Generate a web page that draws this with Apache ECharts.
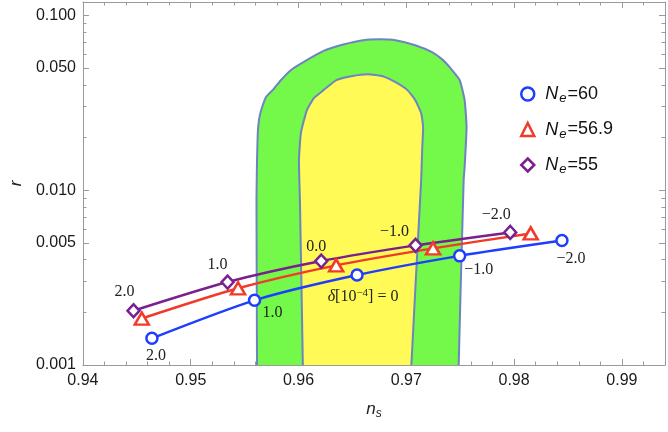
<!DOCTYPE html>
<html><head><meta charset="utf-8">
<script src="https://cdn.jsdelivr.net/npm/echarts@6/dist/echarts.min.js"></script>
<style>html,body{margin:0;padding:0;background:#fff}#c{width:668px;height:432px}</style>
</head><body><div id="c"></div>
<script>
// ---- data ----
const neNames = ['60', '56.9', '55'];
const nsNe60  = [0.94640, 0.95592, 0.96543, 0.97495, 0.98444];
const rNe60   = [0.001421, 0.002343, 0.003267, 0.004207, 0.005145];
const nsNe569 = [0.94546, 0.95439, 0.96349, 0.97248, 0.98154];
const rNe569  = [0.001843, 0.002744, 0.003713, 0.004643, 0.005656];
const nsNe55  = [0.94469, 0.95342, 0.96211, 0.97086, 0.97964];
const rNe55   = [0.002043, 0.002980, 0.003929, 0.004831, 0.005731];
const deltaLabels60 = ['2.0', '1.0', '{i|δ}[10{s|−4}] = 0', '−1.0', '−2.0'];
const deltaLabels55 = ['2.0', '1.0', '0.0', '−1.0', '−2.0'];
// contour boundaries [n_s, r]
const outer2sigma = [[0.95615,0.0005],[0.95615,0.001],[0.95610,0.0088],[0.95615,0.0148],[0.95622,0.0212],[0.95633,0.0251],[0.95653,0.0286],[0.95699,0.0341],[0.95769,0.0378],[0.95836,0.0425],[0.95928,0.0485],[0.96049,0.0541],[0.96232,0.0625],[0.96415,0.0680],[0.96598,0.0720],[0.96751,0.0729],[0.96900,0.0720],[0.97083,0.0674],[0.97239,0.0615],[0.97330,0.0561],[0.97394,0.0511],[0.97495,0.0425],[0.97541,0.0327],[0.97559,0.0229],[0.97541,0.0135],[0.97532,0.0114],[0.97486,0.001],[0.97486,0.0005]];
const inner1sigma = [[0.96040,0.0005],[0.96040,0.001],[0.96013,0.0088],[0.96004,0.0148],[0.96022,0.0212],[0.96077,0.0286],[0.96141,0.0335],[0.96232,0.0373],[0.96351,0.0425],[0.96489,0.0448],[0.96644,0.0460],[0.96781,0.0448],[0.96900,0.0414],[0.97010,0.0373],[0.97083,0.0327],[0.97138,0.0275],[0.97156,0.0229],[0.97147,0.0169],[0.97138,0.0114],[0.97047,0.001],[0.97047,0.0005]];
const xMin = 0.94, xMax = 0.994, xStep = 0.01;
const yMin = 0.001, yMax = 0.119;
const yMajorTicks = [0.001, 0.005, 0.01, 0.05, 0.1];
const yMinorTicks = [0.002,0.003,0.004,0.006,0.007,0.008,0.009,0.02,0.03,0.04,0.06,0.07,0.08,0.09];

// ---- styling ----
const BLUE = '#1f3dff', RED = '#f23a2a', PURPLE = '#7a1f8e';
const FRAME = '#9a9a9a';
const offs60 = [[4,17],[18,12],[6,22],[19,14],[9,18]];
const offs55 = [[-9,-19],[-10,-17],[-5,-14],[-21,-14],[-14,-18]];
const serif = 'Liberation Serif';
const sans = 'Liberation Sans';
const lblStyle = {fontFamily: serif, fontSize: 16, color: '#222',
  rich: {i: {fontFamily: serif, fontSize: 16, fontStyle: 'italic', color: '#222'},
         s: {fontFamily: serif, fontSize: 11, color: '#222', padding: [0,0,8,0]}}};

function pts(xs, ys, texts, offs) {
  return xs.map((x, i) => {
    const item = {value: [x, ys[i]]};
    if (texts) item.label = Object.assign({show: true, position: 'inside', formatter: texts[i], offset: offs[i]}, lblStyle);
    return item;
  });
}

function polySeries(poly, fill) {
  return {
    type: 'custom', clip: true, silent: true,
    data: [poly[1]],
    renderItem: (params, api) => ({
      type: 'polygon',
      shape: {points: poly.map(p => api.coord(p)), smooth: 0.15},
      style: {fill: fill, stroke: '#6e84c2', lineWidth: 2}
    })
  };
}

function lineSeries(name, xs, ys, color, symbol, size, texts, offs) {
  return {
    type: 'line', name: name, data: pts(xs, ys, texts, offs),
    smooth: 0.25, symbol: symbol, symbolSize: size, showAllSymbol: true,
    lineStyle: {color: color, width: 2.5},
    itemStyle: {color: '#fff', borderColor: color, borderWidth: 2.5},
    emphasis: {disabled: true}, z: 5
  };
}

const xLabelFmt = v => Math.abs(v * 100 - Math.round(v * 100)) < 1e-6 ? v.toFixed(2) : '';
const baseX = {
  type: 'value', min: xMin, max: xMax, interval: xStep,
  axisLine: {show: true, lineStyle: {color: FRAME, width: 1}},
  axisTick: {show: true, inside: true, length: 6, lineStyle: {color: FRAME}},
  minorTick: {show: true, splitNumber: 5, length: 3.5, lineStyle: {color: FRAME}},
  splitLine: {show: false}, minorSplitLine: {show: false}
};
const baseY = {
  type: 'log', min: yMin, max: yMax, logBase: 10,
  splitLine: {show: false}, minorTick: {show: false}, minorSplitLine: {show: false}
};

const option = {
  animation: false,
  backgroundColor: '#fff',
  grid: {left: 76, right: 1, top: 2, bottom: 67, containLabel: false},
  xAxis: [
    Object.assign({}, baseX, {
      position: 'bottom',
      axisLabel: {formatter: xLabelFmt, fontFamily: sans, fontSize: 16, color: '#1a1a1a', margin: 8},
      name: '{n|n}{s|s}', nameLocation: 'middle', nameGap: 34,
      nameTextStyle: {rich: {
        n: {fontFamily: sans, fontStyle: 'italic', fontSize: 17, color: '#222'},
        s: {fontFamily: sans, fontStyle: 'italic', fontSize: 12, color: '#222', padding: [9,0,0,0]}}}
    }),
    Object.assign({}, baseX, {position: 'top', axisLabel: {show: false}})
  ],
  yAxis: [
    Object.assign({}, baseY, {
      position: 'left',
      axisLine: {show: true, lineStyle: {color: FRAME, width: 1}},
      axisTick: {show: true, inside: true, length: 6, customValues: yMajorTicks, lineStyle: {color: FRAME}},
      axisLabel: {customValues: yMajorTicks, formatter: v => v.toFixed(3), fontFamily: sans, fontSize: 16, color: '#1a1a1a', margin: 7},
      name: 'r', nameLocation: 'middle', nameGap: 57, nameRotate: 90,
      nameTextStyle: {fontFamily: sans, fontStyle: 'italic', fontSize: 17, color: '#222'}
    }),
    Object.assign({}, baseY, {
      position: 'left', axisLine: {show: false},
      axisTick: {show: true, inside: true, length: 3.5, customValues: yMinorTicks, lineStyle: {color: FRAME}},
      axisLabel: {show: false}
    }),
    Object.assign({}, baseY, {
      position: 'right',
      axisLine: {show: true, lineStyle: {color: FRAME, width: 1}},
      axisTick: {show: true, inside: true, length: 6, customValues: yMajorTicks, lineStyle: {color: FRAME}},
      axisLabel: {show: false}
    }),
    Object.assign({}, baseY, {
      position: 'right', axisLine: {show: false},
      axisTick: {show: true, inside: true, length: 3.5, customValues: yMinorTicks, lineStyle: {color: FRAME}},
      axisLabel: {show: false}
    })
  ],
  legend: {
    orient: 'vertical', left: 515, top: 80, itemWidth: 13, itemHeight: 13, itemGap: 15.5,
    selectedMode: false,
    data: [
      {name: neNames[0], icon: 'circle', itemStyle: {color: '#fff', borderColor: BLUE, borderWidth: 2.5}},
      {name: neNames[1], icon: 'triangle', itemStyle: {color: '#fff', borderColor: RED, borderWidth: 2.5}},
      {name: neNames[2], icon: 'diamond', itemStyle: {color: '#fff', borderColor: PURPLE, borderWidth: 2.5}}
    ],
    formatter: n => '{n|N}{s|e}{v|=' + n + '}',
    textStyle: {rich: {
      n: {fontFamily: sans, fontStyle: 'italic', fontSize: 18, color: '#111', padding: [0,0,0,6]},
      s: {fontFamily: sans, fontStyle: 'italic', fontSize: 13, color: '#111', padding: [9,0,0,1]},
      v: {fontFamily: sans, fontSize: 18, color: '#111', padding: [0,0,0,1]}
    }}
  },
  series: [
    polySeries(outer2sigma, '#74f84a'),
    polySeries(inner1sigma, '#fffa55'),
    lineSeries(neNames[0], nsNe60, rNe60, BLUE, 'circle', 11, deltaLabels60, offs60),
    lineSeries(neNames[1], nsNe569, rNe569, RED, 'triangle', [14, 12], null, null),
    lineSeries(neNames[2], nsNe55, rNe55, PURPLE, 'diamond', [12, 13], deltaLabels55, offs55)
  ]
};
const chart = echarts.init(document.getElementById('c'), null, {renderer: 'canvas'});
chart.setOption(option);
</script></body></html>
